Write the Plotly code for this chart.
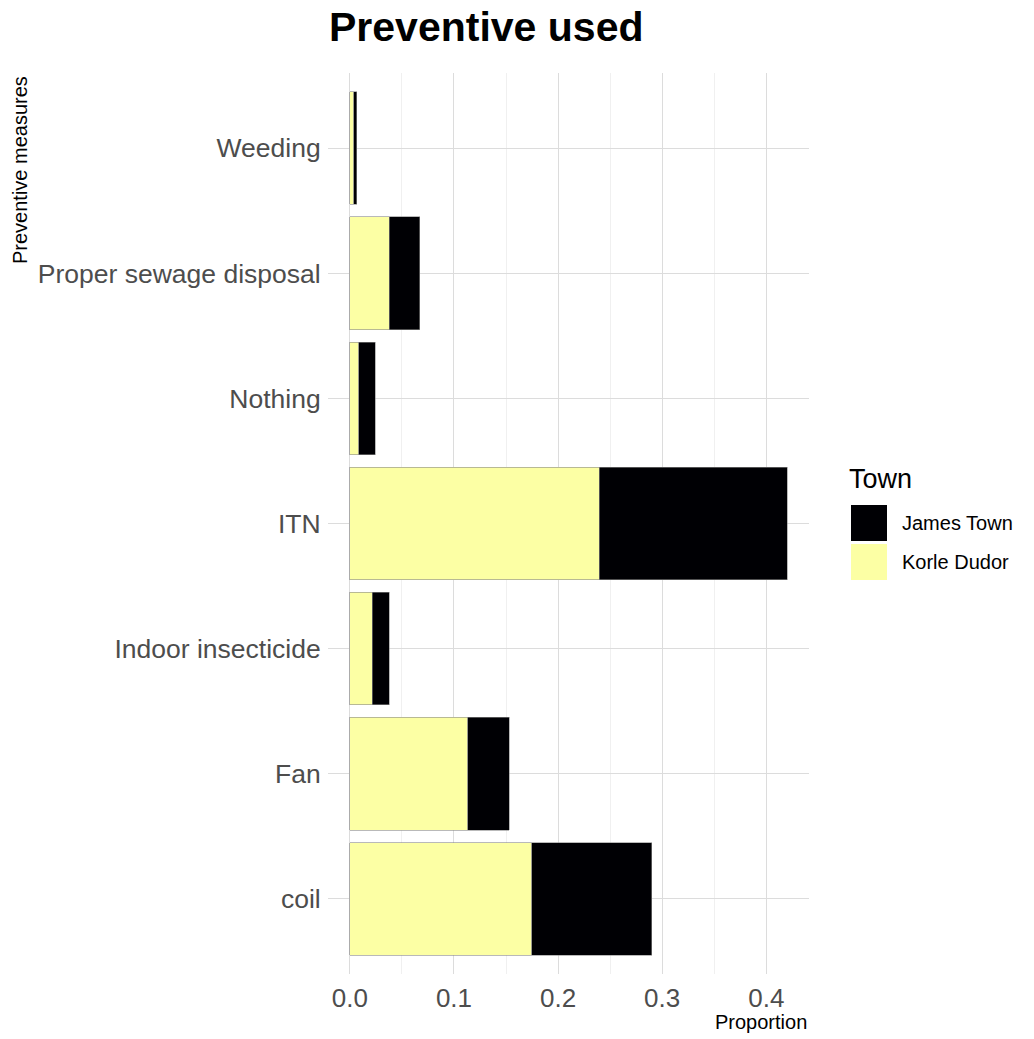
import plotly.graph_objects as go

categories = ["coil", "Fan", "Indoor insecticide", "ITN", "Nothing", "Proper sewage disposal", "Weeding"]
korle_dudor = [0.1745, 0.113, 0.0215, 0.2397, 0.0086, 0.0378, 0.0038]
james_town = [0.1155, 0.040, 0.0163, 0.1803, 0.0160, 0.0293, 0.0026]
x_ticks = [0.0, 0.1, 0.2, 0.3, 0.4]
x_tick_labels = ["0.0", "0.1", "0.2", "0.3", "0.4"]

YELLOW = "#FCFFA4"
BLACK = "#000004"

fig = go.Figure()
fig.add_trace(go.Bar(y=categories, x=korle_dudor, orientation="h", name="Korle Dudor",
                     marker=dict(color=YELLOW, line=dict(color="#8a8a8a", width=0.6)),
                     width=0.9, showlegend=False))
fig.add_trace(go.Bar(y=categories, x=james_town, orientation="h", name="James Town",
                     marker=dict(color=BLACK, line=dict(color="#8a8a8a", width=0.6)),
                     width=0.9, showlegend=False))

total_max = max(k + j for k, j in zip(korle_dudor, james_town))
pad = total_max * 0.05

W, H = 1034, 1039
ml, mr, mt, mb = 328, 225, 73, 65
pw = W - ml - mr
ph = H - mt - mb

def px(x):
    return (x - ml) / pw

def py(y):
    return (H - mb - y) / ph

fig.update_layout(
    width=W, height=H,
    margin=dict(l=ml, r=mr, t=mt, b=mb),
    barmode="stack",
    plot_bgcolor="white", paper_bgcolor="white",
    font=dict(family="Liberation Sans, Arial, sans-serif"),
    xaxis=dict(range=[-pad, total_max + pad], tickvals=x_ticks, ticktext=x_tick_labels,
               showgrid=True, gridcolor="#dcdcdc", gridwidth=1, zeroline=False,
               tickfont=dict(size=26, color="#4d4d4d"), ticks="outside", ticklen=1,
               tickcolor="rgba(0,0,0,0)",
               minor=dict(dtick=0.05, tick0=0.05, showgrid=True, gridcolor="#f0f0f0", gridwidth=1),
               fixedrange=True),
    yaxis=dict(type="category", categoryorder="array", categoryarray=categories,
               range=[-0.6, len(categories) - 0.4],
               showgrid=True, gridcolor="#dcdcdc", gridwidth=1, zeroline=False,
               tickfont=dict(size=26.5, color="#4d4d4d"), ticks="outside", ticklen=1,
               tickcolor="rgba(0,0,0,0)"),
    showlegend=False,
)

annotations = [
    dict(text="<b>Preventive used</b>", x=px(486), y=py(27), xref="paper", yref="paper",
         showarrow=False, font=dict(size=41, color="black"), xanchor="center", yanchor="middle"),
    dict(text="Proportion", x=1.0, y=py(1022), xref="paper", yref="paper",
         showarrow=False, font=dict(size=20, color="black"), xanchor="right", yanchor="middle"),
    dict(text="Preventive measures", x=px(20), y=py(74), xref="paper", yref="paper",
         showarrow=False, font=dict(size=20, color="black"), textangle=-90,
         xanchor="center", yanchor="top"),
    dict(text="Town", x=px(847), y=py(479), xref="paper", yref="paper",
         showarrow=False, font=dict(size=27, color="black"), xanchor="left", yanchor="middle"),
    dict(text="James Town", x=px(900), y=py(523), xref="paper", yref="paper",
         showarrow=False, font=dict(size=20, color="black"), xanchor="left", yanchor="middle"),
    dict(text="Korle Dudor", x=px(900), y=py(562), xref="paper", yref="paper",
         showarrow=False, font=dict(size=20, color="black"), xanchor="left", yanchor="middle"),
]
fig.update_layout(annotations=annotations)

shapes = [
    dict(type="rect", xref="paper", yref="paper", x0=px(851), x1=px(887), y0=py(541), y1=py(505),
         fillcolor=BLACK, line=dict(width=0)),
    dict(type="rect", xref="paper", yref="paper", x0=px(851), x1=px(887), y0=py(580), y1=py(544),
         fillcolor=YELLOW, line=dict(width=0)),
]
fig.update_layout(shapes=shapes)

fig.write_html("out.html", config={"displayModeBar": False},
               post_script="document.body.style.margin='0';document.body.style.padding='0';")
